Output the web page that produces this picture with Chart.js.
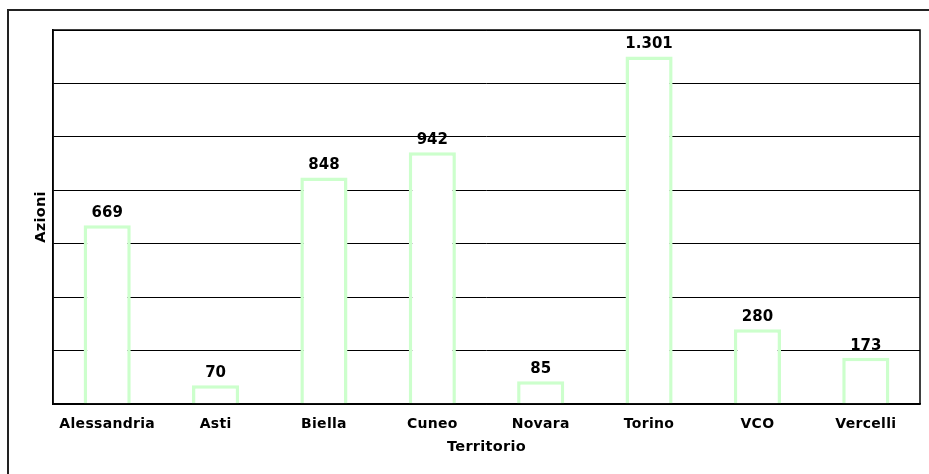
<!DOCTYPE html>
<html>
<head>
<meta charset="utf-8">
<script src="https://cdn.jsdelivr.net/npm/chart.js@4/dist/chart.umd.min.js"></script>
<style>
  html, body { margin: 0; padding: 0; background: #fff; overflow: hidden; }
  #wrap { position: relative; width: 929px; height: 474px; }
  #frame { position: absolute; left: 7px; top: 9px; width: 1000px; height: 1000px; border: 2px solid #222; box-sizing: border-box; pointer-events: none; }
  canvas { position: absolute; left: 0; top: 0; }
</style>
</head>
<body>
<div id="wrap">
  <div id="frame"></div>
  <canvas id="c" width="929" height="474"></canvas>
</div>
<script>
const categories = ['Alessandria', 'Asti', 'Biella', 'Cuneo', 'Novara', 'Torino', 'VCO', 'Vercelli'];
const azioni = [669, 70, 848, 942, 85, 1301, 280, 173];
const yMax = 1400;
const yStep = 200;

const fontFamily = 'Verdana, "DejaVu Sans", sans-serif';

// Slightly open tracking for the axis texts
const tracking = {
  id: 'tracking',
  beforeLayout(chart) { chart.ctx.letterSpacing = '0.3px'; },
  beforeDraw(chart) { chart.ctx.letterSpacing = '0.3px'; }
};

// Values above each bar, with Italian thousands separator
const valueLabels = {
  id: 'valueLabels',
  afterDatasetsDraw(chart) {
    const ctx = chart.ctx;
    const meta = chart.getDatasetMeta(0);
    ctx.save();
    ctx.letterSpacing = '0px';
    ctx.font = 'bold 15px ' + fontFamily;
    ctx.fillStyle = '#000';
    ctx.textAlign = 'center';
    ctx.textBaseline = 'alphabetic';
    meta.data.forEach((bar, i) => {
      const txt = azioni[i].toLocaleString('it-IT');
      ctx.fillText(txt, bar.x, bar.y - 8);
    });
    ctx.restore();
  }
};

// Border around the plot area
const plotBorder = {
  id: 'plotBorder',
  afterDraw(chart) {
    const a = chart.chartArea;
    const ctx = chart.ctx;
    ctx.save();
    ctx.strokeStyle = '#000';
    ctx.lineWidth = 1.5;
    ctx.strokeRect(a.left, a.top, a.right - a.left, a.bottom - a.top);
    ctx.restore();
  }
};

new Chart(document.getElementById('c'), {
  type: 'bar',
  data: {
    labels: categories,
    datasets: [{
      label: 'Azioni',
      data: azioni,
      backgroundColor: '#ffffff',
      borderColor: '#ccffcc',
      borderWidth: 3.5,
      barPercentage: 0.435,
      categoryPercentage: 1.0
    }]
  },
  options: {
    responsive: false,
    animation: false,
    devicePixelRatio: 1,
    layout: { padding: { left: 33, right: 9, top: 30, bottom: 18 } },
    plugins: {
      legend: { display: false },
      tooltip: { enabled: false }
    },
    scales: {
      x: {
        afterFit(scale) { scale.height = 52; },
        grid: { display: false, drawTicks: false },
        border: { display: true, color: '#000', width: 1.5 },
        ticks: {
          color: '#000',
          font: { family: fontFamily, size: 14, weight: 'bold' },
          padding: 12,
          maxRotation: 0,
          autoSkip: false
        },
        title: {
          display: true,
          text: 'Territorio',
          color: '#000',
          font: { family: fontFamily, size: 14.5, weight: 'bold' },
          padding: { top: 0, bottom: 0 }
        }
      },
      y: {
        min: 0,
        max: yMax,
        afterFit(scale) { scale.width = 20; },
        grid: { color: '#000', lineWidth: 1, drawTicks: false },
        border: { display: true, color: '#000', width: 1.5 },
        ticks: { display: false, stepSize: yStep },
        title: {
          display: true,
          text: 'Azioni',
          color: '#000',
          font: { family: fontFamily, size: 14.5, weight: 'bold' },
          padding: { top: 0, bottom: 0 }
        }
      }
    }
  },
  plugins: [tracking, valueLabels, plotBorder]
});
</script>
</body>
</html>
